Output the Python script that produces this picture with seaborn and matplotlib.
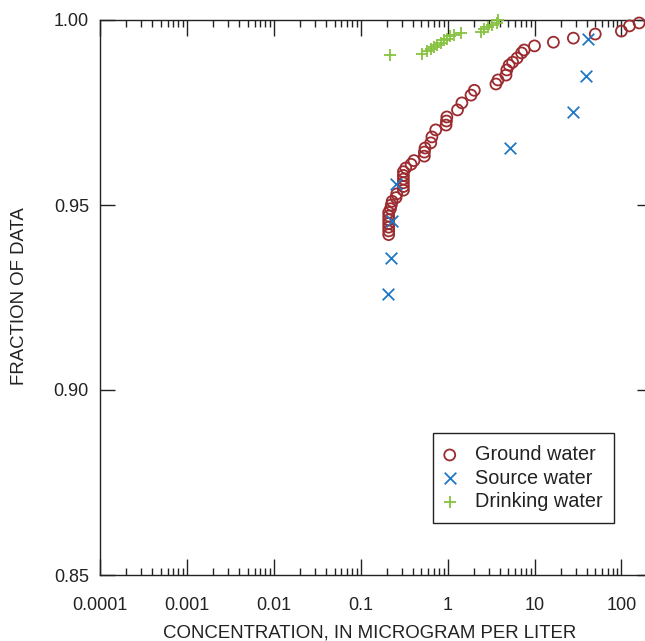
import matplotlib
matplotlib.use("Agg")
import matplotlib.pyplot as plt
import matplotlib.ticker as mticker
import seaborn as sns
import numpy as np
import pandas as pd

# ---------------- data ----------------
gw_conc = [0.21, 0.21, 0.21, 0.21, 0.21, 0.21, 0.21, 0.22, 0.225, 0.23,
           0.255, 0.26, 0.31, 0.31, 0.31, 0.31, 0.31, 0.31, 0.33, 0.38,
           0.41, 0.54, 0.54, 0.55, 0.64, 0.66, 0.73, 0.96, 0.97, 0.98,
           1.30, 1.46, 1.86, 2.03, 3.6, 3.8, 4.7, 4.8, 5.1, 5.6,
           6.3, 7.1, 7.6, 10.0, 16.5, 28.0, 50.0, 100.0, 124.0, 160.0]
gw_frac = [0.9420, 0.9430, 0.9440, 0.9450, 0.9460, 0.9470, 0.9480, 0.9490, 0.9500, 0.9510,
           0.9520, 0.9530, 0.9540, 0.9550, 0.9560, 0.9570, 0.9580, 0.9590, 0.9600, 0.9610,
           0.9620, 0.9632, 0.9643, 0.9654, 0.9668, 0.9684, 0.9703, 0.9716, 0.9727, 0.9738,
           0.9757, 0.9776, 0.9797, 0.9810, 0.9827, 0.9838, 0.9851, 0.9865, 0.9878, 0.9886,
           0.9897, 0.9911, 0.9919, 0.9930, 0.9940, 0.9951, 0.9962, 0.9970, 0.9984, 0.9992]

sw_conc = [0.208, 0.225, 0.231, 0.257, 5.29, 28.1, 38.7, 41.0]
sw_frac = [0.9259, 0.9357, 0.9457, 0.9557, 0.9654, 0.9751, 0.9849, 0.9949]

dw_conc = [0.218, 0.513, 0.585, 0.650, 0.704, 0.763, 0.849, 0.918, 0.995,
           1.077, 1.197, 1.442, 2.45, 2.65, 2.95, 3.28, 3.75, 3.85]
dw_frac = [0.9906, 0.9909, 0.9916, 0.9922, 0.9927, 0.9933, 0.9939, 0.9946, 0.9949,
           0.9957, 0.9960, 0.9966, 0.9968, 0.9975, 0.9981, 0.9987, 0.9993, 1.0000]

series_names = ["Ground water", "Source water", "Drinking water"]

x_tick_values = [1e-4, 1e-3, 1e-2, 1e-1, 1, 10, 100]
x_tick_labels = ["0.0001", "0.001", "0.01", "0.1", "1", "10", "100"]
y_tick_values = [0.85, 0.90, 0.95, 1.00]
y_tick_labels = ["0.85", "0.90", "0.95", "1.00"]

x_label = "CONCENTRATION, IN MICROGRAM PER LITER"
y_label = "FRACTION OF DATA"

# ---------------- styling ----------------
sns.set_theme(style="ticks")
plt.rcParams["font.family"] = ["Liberation Sans", "DejaVu Sans"]
plt.rcParams["axes.edgecolor"] = "#222222"
plt.rcParams["xtick.color"] = "#222222"
plt.rcParams["ytick.color"] = "#222222"
plt.rcParams["text.color"] = "#222222"
plt.rcParams["axes.labelcolor"] = "#222222"

fig = plt.figure(figsize=(6.45, 6.41), dpi=100)
ax = fig.add_axes([100 / 645, 66 / 641, 552 / 645, 555 / 641])

red = "#9b2b2f"
blue = "#1f78c4"
green = "#86c340"

sns.scatterplot(x=gw_conc, y=gw_frac, ax=ax, marker="o", s=62,
                facecolors="none", edgecolor=red, linewidth=1.3,
                label=series_names[0], clip_on=False, zorder=3)
sns.scatterplot(x=sw_conc, y=sw_frac, ax=ax, marker="x", s=70,
                color=blue, linewidth=1.3,
                label=series_names[1], clip_on=False, zorder=3)
sns.scatterplot(x=dw_conc, y=dw_frac, ax=ax, marker="+", s=80,
                color=green, linewidth=1.3,
                label=series_names[2], clip_on=False, zorder=3)

ax.set_xscale("log")
ax.set_xlim(1e-4, 10 ** (552 / 86.9 - 4))
ax.set_ylim(0.85, 1.00)

ax.xaxis.set_major_locator(mticker.FixedLocator(x_tick_values))
ax.xaxis.set_major_formatter(mticker.FixedFormatter(x_tick_labels))
ax.xaxis.set_minor_locator(mticker.LogLocator(base=10, subs=np.arange(2, 10), numticks=20))
ax.xaxis.set_minor_formatter(mticker.NullFormatter())
ax.yaxis.set_major_locator(mticker.FixedLocator(y_tick_values))
ax.yaxis.set_major_formatter(mticker.FixedFormatter(y_tick_labels))
ax.yaxis.set_minor_locator(mticker.NullLocator())

ax.tick_params(axis="both", which="both", direction="in", top=True, right=True,
               width=1.0)
ax.tick_params(axis="x", which="major", length=11.5, pad=16, labelsize=13)
ax.tick_params(axis="x", which="minor", length=5)
ax.tick_params(axis="y", which="major", length=11, pad=8, labelsize=13)

for sp in ax.spines.values():
    sp.set_linewidth(1.0)

ax.set_xlabel(x_label, fontsize=13.4)
ax.set_ylabel(y_label, fontsize=13.4)
ax.xaxis.set_label_coords(0.488, -0.090)
ax.yaxis.set_label_coords(-0.131, 0.503)

leg = ax.legend(loc="lower left", bbox_to_anchor=(0.603, 0.094), frameon=True,
                fancybox=False, edgecolor="#222222", framealpha=1,
                fontsize=14.3, handletextpad=1.0, borderpad=0.6,
                labelspacing=0.22, handlelength=0.5, borderaxespad=0)
leg.get_frame().set_linewidth(1.0)

fig.savefig("out.png", dpi=100)
